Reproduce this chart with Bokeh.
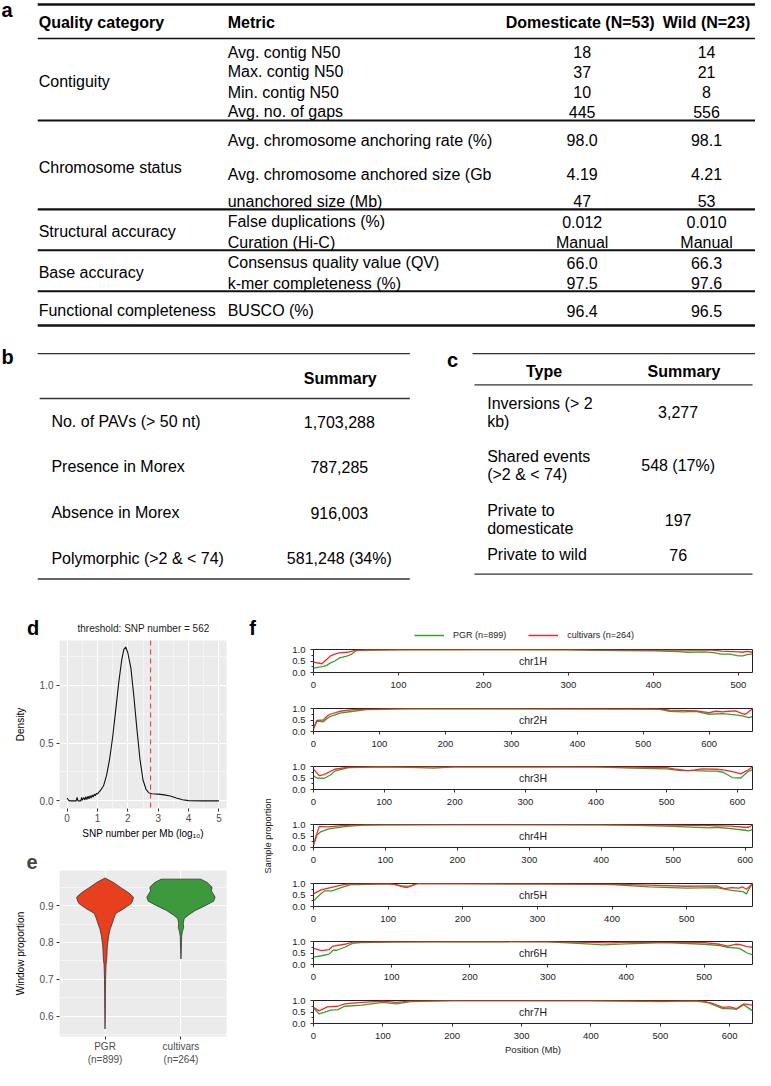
import math
from bokeh.plotting import figure
from bokeh.models import (Range1d, Span, FixedTicker, Legend, LegendItem,
                          NumeralTickFormatter)
from bokeh.layouts import column, row
from bokeh.embed import file_html
from bokeh.resources import INLINE
from bokeh.core.properties import value

FONT = "Liberation Sans"

# ------------------------------------------------------------------ data: table a
a_header = ["Quality category", "Metric", "Domesticate (N=53)", "Wild (N=23)"]
quality_categories = ["Contiguity", "Chromosome status", "Structural accuracy",
                      "Base accuracy", "Functional completeness"]
metrics = ["Avg. contig N50", "Max. contig N50", "Min. contig N50", "Avg. no. of gaps",
           "Avg. chromosome anchoring rate (%)", "Avg. chromosome anchored size (Gb",
           "unanchored size (Mb)", "False duplications (%)", "Curation (Hi-C)",
           "Consensus quality value (QV)", "k-mer completeness (%)", "BUSCO (%)"]
domesticate_values = ["18", "37", "10", "445", "98.0", "4.19", "47", "0.012", "Manual",
                      "66.0", "97.5", "96.4"]
wild_values = ["14", "21", "8", "556", "98.1", "4.21", "53", "0.010", "Manual",
               "66.3", "97.6", "96.5"]

# ------------------------------------------------------------------ data: table b
b_header = "Summary"
pav_items = ["No. of PAVs (> 50 nt)", "Presence in Morex", "Absence in Morex",
             "Polymorphic (>2 & < 74)"]
pav_summary = ["1,703,288", "787,285", "916,003", "581,248 (34%)"]

# ------------------------------------------------------------------ data: table c
c_header = ["Type", "Summary"]
inversion_types = ["Inversions (> 2\nkb)", "Shared events\n(>2 & < 74)",
                   "Private to\ndomesticate", "Private to wild"]
inversion_summary = ["3,277", "548 (17%)", "197", "76"]

# ------------------------------------------------------------------ data: panel d
snp_threshold = 562
density_x = [0.0, 0.05, 0.1, 0.3, 0.33, 0.36, 0.45, 0.48, 0.5, 0.55, 0.58, 0.62, 0.65,
             0.69, 0.72, 0.76, 0.79, 0.83, 0.86, 0.9, 0.93, 0.97, 1.0, 1.05, 1.1, 1.2,
             1.3, 1.4, 1.5, 1.6, 1.7, 1.8, 1.87, 1.93, 2.0, 2.1, 2.2, 2.3, 2.4, 2.5,
             2.6, 2.7, 2.8, 3.0, 3.2, 3.4, 3.6, 3.8, 4.0, 4.5, 5.0]
density_y = [0.025, 0.005, 0.0, 0.0, 0.03, 0.0, 0.0, 0.03, 0.005, 0.03, 0.008, 0.035,
             0.012, 0.04, 0.018, 0.045, 0.025, 0.05, 0.033, 0.058, 0.045, 0.065, 0.06,
             0.075, 0.09, 0.13, 0.22, 0.36, 0.55, 0.78, 1.02, 1.22, 1.31, 1.33, 1.28,
             1.15, 0.9, 0.62, 0.36, 0.18, 0.1, 0.068, 0.062, 0.058, 0.052, 0.042,
             0.025, 0.01, 0.002, 0.0, 0.0]

# ------------------------------------------------------------------ data: panel e
violin_groups = ["PGR\n(n=899)", "cultivars\n(n=264)"]
pgr_prop = [0.975, 0.963, 0.95, 0.935, 0.923, 0.912, 0.905, 0.891, 0.879, 0.865, 0.852,
            0.835, 0.817, 0.79, 0.755, 0.74, 0.70, 0.66, 0.62, 0.565]
pgr_halfwidth = [0.0, 0.11, 0.20, 0.31, 0.375, 0.36, 0.34, 0.24, 0.14, 0.115, 0.095,
                 0.065, 0.047, 0.03, 0.022, 0.013, 0.007, 0.005, 0.004, 0.0]
cult_prop = [0.972, 0.963, 0.95, 0.94, 0.923, 0.912, 0.9, 0.887, 0.874, 0.865, 0.852,
             0.841, 0.83, 0.817, 0.782, 0.755]
cult_halfwidth = [0.26, 0.345, 0.41, 0.40, 0.45, 0.43, 0.32, 0.19, 0.095, 0.043, 0.03,
                  0.035, 0.02, 0.009, 0.005, 0.0]

# ------------------------------------------------------------------ data: panel f
f_series = ["PGR (n=899)", "cultivars (n=264)"]
chrom_names = ["chr1H", "chr2H", "chr3H", "chr4H", "chr5H", "chr6H", "chr7H"]
chrom_length_mb = [516.5, 665.6, 621.5, 610.3, 588.2, 561.8, 632.9]
chrom_tick_mb = [[0, 100, 200, 300, 400, 500],
                 [0, 100, 200, 300, 400, 500, 600],
                 [0, 100, 200, 300, 400, 500, 600],
                 [0, 100, 200, 300, 400, 500, 600],
                 [0, 100, 200, 300, 400, 500],
                 [0, 100, 200, 300, 400, 500],
                 [0, 100, 200, 300, 400, 500, 600]]

chr1_pgr_pos = [0, 10, 15, 20, 25, 30, 40, 45, 50, 60, 100, 200, 300, 330, 400, 430, 440,
                460, 470, 480, 490, 500, 505, 510, 516]
chr1_pgr = [0.19, 0.26, 0.30, 0.42, 0.50, 0.62, 0.72, 0.80, 0.95, 0.97, 0.99, 1.0, 0.98,
            0.96, 0.94, 0.91, 0.88, 0.90, 0.86, 0.80, 0.80, 0.72, 0.72, 0.78, 0.80]
chr1_cult_pos = [0, 10, 15, 20, 25, 30, 40, 50, 100, 300, 400, 450, 470, 480, 500, 505,
                 510, 516]
chr1_cult = [0.45, 0.38, 0.55, 0.72, 0.80, 0.85, 0.88, 0.97, 1.0, 1.0, 0.97, 0.97, 0.97,
             0.93, 0.90, 0.88, 0.92, 0.88]

chr2_pgr_pos = [0, 5, 15, 20, 25, 40, 60, 80, 100, 150, 500, 525, 540, 560, 580, 600, 620,
                640, 650, 660, 665]
chr2_pgr = [0.10, 0.45, 0.42, 0.55, 0.65, 0.80, 0.88, 0.95, 0.96, 1.0, 0.97, 0.96, 0.88,
            0.85, 0.88, 0.75, 0.78, 0.72, 0.68, 0.60, 0.65]
chr2_cult_pos = [0, 5, 15, 20, 25, 40, 60, 100, 150, 525, 540, 560, 580, 600, 610, 620,
                 630, 640, 650, 655, 665]
chr2_cult = [0.15, 0.48, 0.50, 0.65, 0.75, 0.88, 0.95, 0.98, 1.0, 0.98, 0.93, 0.92, 0.90,
             0.82, 0.88, 0.85, 0.88, 0.90, 0.78, 0.75, 0.98]

chr3_pgr_pos = [0, 5, 15, 25, 30, 50, 100, 150, 170, 200, 300, 400, 450, 500, 520, 540,
                560, 570, 580, 593, 605, 615, 621]
chr3_pgr = [0.60, 0.50, 0.48, 0.65, 0.80, 0.95, 0.99, 0.95, 0.93, 0.98, 0.98, 0.98, 0.93,
            0.90, 0.82, 0.82, 0.80, 0.80, 0.75, 0.52, 0.50, 0.78, 0.85]
chr3_cult_pos = [0, 8, 15, 30, 50, 100, 400, 450, 500, 510, 530, 540, 550, 570, 580, 590,
                 600, 605, 615, 621]
chr3_cult = [0.90, 0.60, 0.65, 0.88, 0.97, 1.0, 0.98, 0.97, 0.95, 0.90, 0.82, 0.85, 0.90,
             0.88, 0.85, 0.80, 0.72, 0.68, 0.85, 0.97]

chr4_pgr_pos = [0, 5, 10, 20, 30, 50, 70, 100, 200, 400, 450, 500, 550, 560, 580, 600,
                605, 610]
chr4_pgr = [0.10, 0.55, 0.68, 0.80, 0.85, 0.93, 0.97, 0.98, 1.0, 0.98, 0.96, 0.92, 0.85,
            0.88, 0.82, 0.75, 0.72, 0.78]
chr4_cult_pos = [0, 8, 20, 40, 60, 100, 400, 500, 550, 580, 600, 605, 610]
chr4_cult = [0.15, 0.92, 0.90, 0.95, 0.98, 1.0, 1.0, 0.97, 0.95, 0.93, 0.88, 0.88, 0.98]

chr5_pgr_pos = [0, 10, 15, 25, 40, 50, 60, 100, 110, 120, 130, 140, 200, 300, 400, 450,
                500, 540, 560, 575, 580, 585, 588]
chr5_pgr = [0.25, 0.55, 0.68, 0.68, 0.85, 0.95, 0.95, 0.98, 0.95, 0.88, 0.90, 1.0, 1.0,
            0.98, 0.95, 0.85, 0.80, 0.82, 0.70, 0.65, 0.55, 0.85, 0.95]
chr5_cult_pos = [0, 10, 20, 40, 50, 100, 110, 120, 125, 135, 140, 400, 450, 500, 540, 550,
                 560, 570, 575, 580, 588]
chr5_cult = [0.55, 0.72, 0.80, 0.95, 0.98, 1.0, 0.95, 0.85, 0.82, 0.95, 1.0, 0.97, 0.93,
             0.88, 0.90, 0.78, 0.82, 0.80, 0.85, 0.75, 0.98]

chr6_pgr_pos = [0, 10, 20, 25, 30, 40, 50, 60, 100, 200, 300, 350, 370, 400, 450, 500,
                520, 530, 545, 555, 562]
chr6_pgr = [0.32, 0.38, 0.45, 0.62, 0.62, 0.75, 0.92, 0.95, 0.97, 1.0, 0.98, 0.90, 0.85,
            0.90, 0.95, 0.88, 0.82, 0.75, 0.70, 0.50, 0.42]
chr6_cult_pos = [0, 10, 20, 25, 40, 50, 100, 300, 350, 380, 400, 500, 520, 530, 540, 545,
                 555, 562]
chr6_cult = [0.70, 0.60, 0.65, 0.80, 0.88, 0.97, 1.0, 1.0, 0.96, 0.94, 0.97, 0.95, 0.88,
             0.80, 0.88, 0.87, 0.78, 0.75]

chr7_pgr_pos = [0, 8, 15, 25, 35, 45, 70, 100, 120, 140, 200, 400, 500, 550, 570, 590,
                600, 610, 620, 633]
chr7_pgr = [0.68, 0.42, 0.48, 0.58, 0.60, 0.75, 0.80, 0.92, 0.85, 0.95, 1.0, 1.0, 0.95,
            0.98, 0.90, 0.65, 0.65, 0.62, 0.82, 0.55]
chr7_cult_pos = [0, 8, 20, 35, 45, 70, 100, 120, 140, 200, 560, 575, 590, 600, 610, 620,
                 633]
chr7_cult = [0.70, 0.55, 0.72, 0.75, 0.85, 0.92, 0.97, 0.92, 0.98, 1.0, 0.98, 0.88, 0.70,
             0.72, 0.65, 0.85, 0.80]

pgr_pos_all = [chr1_pgr_pos, chr2_pgr_pos, chr3_pgr_pos, chr4_pgr_pos, chr5_pgr_pos,
               chr6_pgr_pos, chr7_pgr_pos]
pgr_all = [chr1_pgr, chr2_pgr, chr3_pgr, chr4_pgr, chr5_pgr, chr6_pgr, chr7_pgr]
cult_pos_all = [chr1_cult_pos, chr2_cult_pos, chr3_cult_pos, chr4_cult_pos, chr5_cult_pos,
                chr6_cult_pos, chr7_cult_pos]
cult_all = [chr1_cult, chr2_cult, chr3_cult, chr4_cult, chr5_cult, chr6_cult, chr7_cult]

# ================================================================== layout constants
A_HEAD_Y = 23
A_ROW_Y = [53, 73, 94, 114, 143, 178, 206, 227, 248, 269, 290, 318]
A_CAT_Y = [83, 171, 237, 279, 318]
A_RULE_Y = [4, 39, 123, 214, 256, 298, 333]
A_RULE_W = [2.5, 1.4, 2.2, 2.2, 2.2, 2.2, 2.5]
B_ROW_Y = [432, 478, 525, 572]
C_ROW_Y = [422, 477, 532, 568]
C_LINE_H = 18.5

GREEN = "#36A02E"
RED = "#F52A2A"


def txt(p, x, y, t, size="16px", bold=False, align="left", baseline="middle",
        color="#000000", angle=0):
    p.text(x=x, y=y, text=t, text_font=value(FONT), text_font_size=size,
           text_font_style="bold" if bold else "normal", text_align=align,
           text_baseline=baseline, text_color=color, angle=angle)


def blank(p):
    p.xgrid.visible = False
    p.ygrid.visible = False
    p.outline_line_color = None


# ================================================================== tables (a, b, c) + headers of d / f
T = figure(width=755, height=640, x_range=Range1d(0, 771), y_range=Range1d(656, 0),
           x_axis_location=None, y_axis_location=None, min_border=0,
           toolbar_location=None, output_backend="svg")
blank(T)

# panel letters
txt(T, [1, 1, 456, 27, 254], [10, 365, 368, 643, 643], ["a", "b", "c", "d", "f"],
    size="20px", bold=True, baseline="alphabetic")

# table a
T.segment(x0=[38] * len(A_RULE_Y), y0=A_RULE_Y, x1=[771] * len(A_RULE_Y), y1=A_RULE_Y,
          line_width=A_RULE_W, line_color="#111111")
txt(T, [39, 232], [A_HEAD_Y] * 2, a_header[:2], bold=True)
txt(T, [592, 721], [A_HEAD_Y] * 2, a_header[2:], bold=True, align="center")
txt(T, [39] * len(quality_categories), A_CAT_Y, quality_categories)
txt(T, [232] * len(metrics), A_ROW_Y, metrics)
txt(T, [594] * len(domesticate_values), A_ROW_Y, domesticate_values, align="center")
txt(T, [721] * len(wild_values), A_ROW_Y, wild_values, align="center")

# table b
T.segment(x0=[38, 40, 38], y0=[362, 408, 593], x1=[418, 418, 418], y1=[362, 408, 593],
          line_width=1.4, line_color="#333333")
txt(T, [347], [387], [b_header], bold=True, align="center")
txt(T, [52] * len(pav_items), B_ROW_Y, pav_items)
txt(T, [346] * len(pav_summary), B_ROW_Y, pav_summary, align="center")

# table c
T.segment(x0=[482, 484, 484], y0=[362, 394, 588], x1=[771, 768, 768], y1=[362, 394, 588],
          line_width=1.4, line_color="#333333")
txt(T, [555, 698], [380, 380], c_header, bold=True, align="center")
c_lines, c_line_y = [], []
for lab, yc in zip(inversion_types, C_ROW_Y):
    parts = lab.split("\n")
    for j, part in enumerate(parts):
        c_lines.append(part)
        c_line_y.append(yc + (j - (len(parts) - 1) / 2) * C_LINE_H)
txt(T, [497] * len(c_lines), c_line_y, c_lines)
txt(T, [692] * len(inversion_summary), C_ROW_Y, inversion_summary, align="center")

# panel d title
txt(T, [146], [644], ["threshold: SNP number = %d" % snp_threshold], size="10px",
    align="center", color="#222222")

# panel f legend (legend-only renderers: NaN data, nothing drawn in the frame)
nan = float("nan")
lg_g = T.line(x=[nan], y=[nan], line_color=GREEN, line_width=1.5)
lg_r = T.line(x=[nan], y=[nan], line_color=RED, line_width=1.5)
f_legend = Legend(items=[LegendItem(label=f_series[0], renderers=[lg_g]),
                         LegendItem(label=f_series[1], renderers=[lg_r])],
                  orientation="horizontal", location=(414, 0),
                  border_line_color=None, background_fill_alpha=0,
                  label_text_font=FONT, label_text_font_size="9px",
                  label_text_color="#222222", glyph_width=30, glyph_height=10,
                  label_height=10, label_standoff=9, spacing=22, padding=0, margin=0)
T.add_layout(f_legend)


# ================================================================== ggplot-like style
def gg_style(p):
    p.background_fill_color = "#EBEBEB"
    p.outline_line_color = None
    for ax in (p.xaxis[0], p.yaxis[0]):
        ax.axis_line_color = None
        ax.major_tick_line_color = "#333333"
        ax.major_tick_out = 3
        ax.major_tick_in = 0
        ax.minor_tick_line_color = None
        ax.major_label_text_color = "#4D4D4D"
        ax.major_label_text_font = FONT
        ax.major_label_text_font_size = "10px"
        ax.axis_label_text_font = FONT
        ax.axis_label_text_font_size = "10px"
        ax.axis_label_text_font_style = "normal"
        ax.axis_label_text_color = "#000000"
    p.grid.grid_line_color = "white"
    p.grid.grid_line_width = 1.1
    p.grid.minor_grid_line_color = "white"
    p.grid.minor_grid_line_width = 0.5


# ================================================================== panel d
d = figure(frame_width=167, frame_height=168, min_border_left=59, min_border_right=16,
           min_border_top=0, min_border_bottom=33,
           x_range=Range1d(-0.25, 5.25), y_range=Range1d(-0.066, 1.386),
           toolbar_location=None, output_backend="svg")
gg_style(d)
d.xaxis.ticker = FixedTicker(ticks=[0, 1, 2, 3, 4, 5], minor_ticks=[0.5, 1.5, 2.5, 3.5, 4.5])
d.yaxis.ticker = FixedTicker(ticks=[0, 0.5, 1.0], minor_ticks=[0.25, 0.75, 1.25])
d.yaxis.formatter = NumeralTickFormatter(format="0.0")
d.xaxis.axis_label = "SNP number per Mb (log\u2081\u2080)"
d.yaxis.axis_label = "Density"
d.xaxis.major_label_standoff = 1
d.xaxis.axis_label_standoff = 3
d.yaxis.major_label_standoff = 2
d.yaxis.axis_label_standoff = 11
d.line(density_x, density_y, line_color="#111111", line_width=1.1)
d.add_layout(Span(location=math.log10(snp_threshold), dimension="height",
                  line_color="#E0403A", line_dash="5 4", line_width=1.1))

# ================================================================== panel e
e = figure(frame_width=167, frame_height=166, min_border_left=59, min_border_right=16,
           min_border_top=29, min_border_bottom=33,
           x_range=Range1d(0.4, 2.6), y_range=Range1d(0.5445, 0.9955),
           toolbar_location=None, output_backend="svg")
gg_style(e)
e.title.text = "e"
e.title.align = "left"
e.title.offset = -33
e.title.standoff = 4
e.title.text_font = FONT
e.title.text_font_size = "20px"
e.title.text_font_style = "bold"
e.xaxis.ticker = FixedTicker(ticks=[1, 2])
e.xaxis.major_label_overrides = {1: violin_groups[0], 2: violin_groups[1]}
e.xaxis.major_label_standoff = 1
e.yaxis.ticker = FixedTicker(ticks=[0.6, 0.7, 0.8, 0.9],
                             minor_ticks=[0.55, 0.65, 0.75, 0.85, 0.95])
e.yaxis.formatter = NumeralTickFormatter(format="0.0")
e.yaxis.axis_label = "Window proportion"
e.yaxis.major_label_standoff = 2
e.yaxis.axis_label_standoff = 11

for center, props, halves, col in ((1, pgr_prop, pgr_halfwidth, "#E8401E"),
                                   (2, cult_prop, cult_halfwidth, "#3C9A3C")):
    xs = [center - h for h in halves] + [center + h for h in reversed(halves)]
    ys = list(props) + list(reversed(props))
    e.patch(xs, ys, fill_color=col, line_color="#333333", line_width=0.8)

# ================================================================== panel f
F_TOP = [9, 6, 6, 6, 6, 6, 6]
F_BOTTOM = [30, 29, 29, 30, 29, 30, 46]
F_HEIGHT = sum(F_TOP) + sum(F_BOTTOM) + 7 * 23

ylab = figure(width=35, height=F_HEIGHT, x_range=Range1d(0, 35), y_range=Range1d(0, F_HEIGHT),
              x_axis_location=None, y_axis_location=None, min_border=0,
              toolbar_location=None, output_backend="svg")
blank(ylab)
# vertical centre of the chr4H frame, measured from the bottom of the column
_mid = sum(F_TOP[4:]) + sum(F_BOTTOM[3:]) + 3 * 23 + 11.5
txt(ylab, [25.3], [_mid], ["Sample proportion"], size="9.2px", align="center",
    color="#222222", angle=math.pi / 2)


def chrom_fig(i):
    L = chrom_length_mb[i]
    p = figure(frame_width=439, frame_height=23, min_border_left=36, min_border_right=3,
               min_border_top=F_TOP[i], min_border_bottom=F_BOTTOM[i],
               x_range=Range1d(0, L), y_range=Range1d(0, 1),
               toolbar_location=None, output_backend="svg")
    p.xgrid.visible = False
    p.ygrid.visible = False
    p.outline_line_color = "#222222"
    p.outline_line_width = 1
    p.xaxis.ticker = FixedTicker(ticks=chrom_tick_mb[i])
    p.yaxis.ticker = FixedTicker(ticks=[0, 0.5, 1.0], minor_ticks=[0.25, 0.75])
    p.yaxis.formatter = NumeralTickFormatter(format="0.0")
    for ax in (p.xaxis[0], p.yaxis[0]):
        ax.axis_line_color = None
        ax.major_tick_line_color = "#333333"
        ax.major_tick_out = 3
        ax.major_tick_in = 0
        ax.major_label_text_font = FONT
        ax.major_label_text_font_size = "9.5px"
        ax.major_label_text_color = "#222222"
        ax.axis_label_text_font = FONT
        ax.axis_label_text_font_size = "9.5px"
        ax.axis_label_text_font_style = "normal"
        ax.axis_label_text_color = "#222222"
    p.xaxis.minor_tick_line_color = None
    p.yaxis.minor_tick_line_color = "#333333"
    p.yaxis.minor_tick_out = 2
    p.yaxis.minor_tick_in = 0
    p.xaxis.major_label_standoff = 6
    p.yaxis.major_label_standoff = 5
    p.line(pgr_pos_all[i], pgr_all[i], line_color=GREEN, line_width=1.3)
    p.line(cult_pos_all[i], cult_all[i], line_color=RED, line_width=1.3)
    txt(p, [L / 2], [0.5], [chrom_names[i]], size="10.5px", align="center",
        color="#222222")
    return p


f_figs = [chrom_fig(i) for i in range(7)]
f_figs[-1].xaxis.axis_label = "Position (Mb)"
f_figs[-1].xaxis.axis_label_standoff = 2

layout = column(T, row(column(d, e), ylab, column(*f_figs)))

with open("out.html", "w") as fh:
    fh.write(file_html(layout, INLINE, title="figure"))
